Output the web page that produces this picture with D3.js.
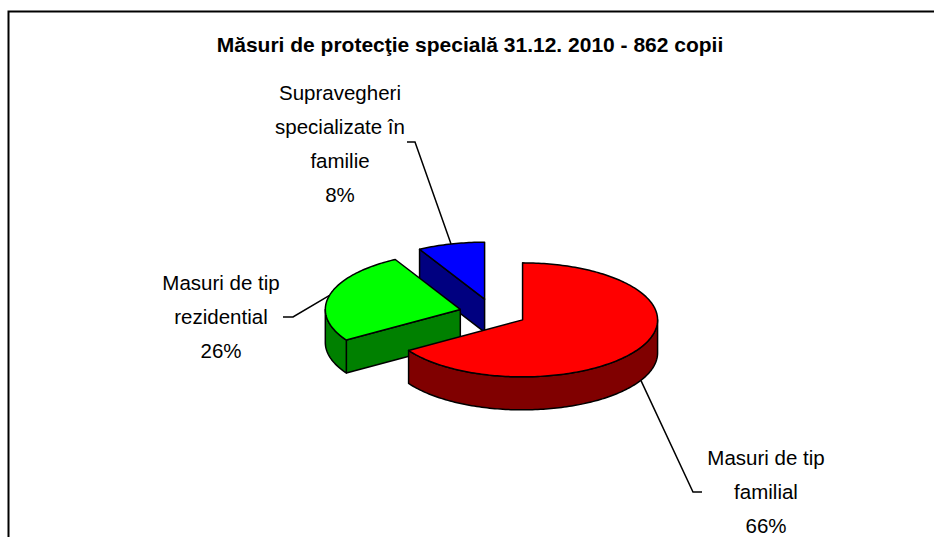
<!DOCTYPE html>
<html>
<head>
<meta charset="utf-8">
<script src="https://cdn.jsdelivr.net/npm/d3@7"></script>
<style>
  html, body { margin: 0; padding: 0; background: #fff; }
  svg { display: block; }
  text { font-family: "Liberation Sans", Arial, sans-serif; fill: #000; }
</style>
</head>
<body>
<svg id="chart" width="934" height="537"></svg>
<script>
// data
const title = 'Măsuri de protecţie specială 31.12. 2010 - 862 copii'
const categories = ['Masuri de tip familial', 'Masuri de tip rezidential', 'Supravegheri specializate în familie']
const percents = [66, 26, 8]
const labelLines = [
  ['Masuri de tip', 'familial'],
  ['Masuri de tip', 'rezidential'],
  ['Supravegheri', 'specializate în', 'familie']
]
const topColors = ['#ff0000', '#00ff00', '#0000ff']
const sideColors = ['#800000', '#008000', '#000080']

// layout
const W = 934, H = 537
const cx = 493, cy = 313, rx = 135, ry = 57, depth = 33, explode = 0.25
// where each label sits and where its leader elbow is
const labelLayout = [
  { x: 766, y: 465, elbow: [[702, 492], [693, 492]], bottom: true },
  { x: 221, y: 290, elbow: [[283, 317], [293, 317]], bottom: false },
  { x: 340, y: 100, elbow: [[407, 142], [415, 142]], bottom: false }
]
const lineH = 34

const svg = d3.select('#chart')

// frame
svg.append('path')
  .attr('d', `M8.5,${H + 5}V11.5H${W + 5}`)
  .attr('fill', 'none')
  .attr('stroke', '#000')
  .attr('stroke-width', 2)

svg.append('text')
  .attr('x', 470)
  .attr('y', 52)
  .attr('text-anchor', 'middle')
  .style('font-size', '21px')
  .style('font-weight', 'bold')
  .text(title)

const pie = d3.pie().sort(null).value(d => d)
const arcs = pie(percents).map((a, i) => {
  const mid = (a.startAngle + a.endAngle) / 2
  return {
    ...a, i, mid,
    ox: cx + explode * rx * Math.sin(mid),
    oy: cy - explode * ry * Math.cos(mid)
  }
})

const pt = (s, a, dz = 0) => [s.ox + rx * Math.sin(a), s.oy - ry * Math.cos(a) + dz]

function arcPoints(s, a0, a1, dz) {
  const n = Math.max(2, Math.ceil(Math.abs(a1 - a0) / 0.02))
  return d3.range(n + 1).map(k => pt(s, a0 + (a1 - a0) * k / n, dz))
}

const line = d3.line()
const g = svg.append('g')
  .attr('stroke', '#000')
  .attr('stroke-width', 1.5)
  .attr('stroke-linejoin', 'round')

// back slices first
const order = arcs.slice().sort((a, b) => a.oy - b.oy)

order.forEach(s => {
  const sg = g.append('g')
  const c0 = [s.ox, s.oy], c1 = [s.ox, s.oy + depth]

  // radial cut faces
  if (Math.sin(s.startAngle) < -1e-6) {
    sg.append('path')
      .attr('d', line([c0, pt(s, s.startAngle), pt(s, s.startAngle, depth), c1]) + 'Z')
      .attr('fill', sideColors[s.i])
  }
  if (Math.sin(s.endAngle) > 1e-6) {
    sg.append('path')
      .attr('d', line([c0, pt(s, s.endAngle), pt(s, s.endAngle, depth), c1]) + 'Z')
      .attr('fill', sideColors[s.i])
  }

  // outer wall, only the front half
  const a0 = Math.max(s.startAngle, Math.PI / 2)
  const a1 = Math.min(s.endAngle, Math.PI * 1.5)
  if (a1 > a0) {
    const pts = arcPoints(s, a0, a1, 0).concat(arcPoints(s, a1, a0, depth))
    sg.append('path')
      .attr('d', line(pts) + 'Z')
      .attr('fill', sideColors[s.i])
  }

  // top face
  const top = [c0].concat(arcPoints(s, s.startAngle, s.endAngle, 0))
  sg.append('path')
    .attr('d', line(top) + 'Z')
    .attr('fill', topColors[s.i])
})

// leader lines and labels
arcs.forEach(s => {
  const L = labelLayout[s.i]
  const end = pt(s, s.mid, L.bottom ? depth : 0)
  svg.append('path')
    .attr('d', line(L.elbow.concat([end])))
    .attr('fill', 'none')
    .attr('stroke', '#000')
    .attr('stroke-width', 1.5)

  const t = svg.append('text')
    .attr('text-anchor', 'middle')
    .style('font-size', '20.5px')
  const lines = labelLines[s.i].concat([percents[s.i] + '%'])
  lines.forEach((ln, k) => {
    t.append('tspan')
      .attr('x', L.x)
      .attr('y', L.y + k * lineH)
      .text(ln)
  })
})
</script>
</body>
</html>
